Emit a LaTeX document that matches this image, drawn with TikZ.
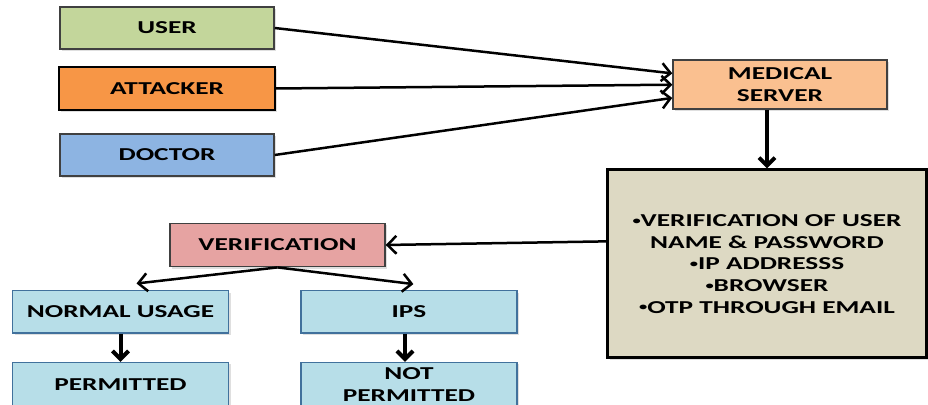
\documentclass[tikz,border=0pt]{standalone}
\usepackage{fontspec}
\setmainfont{Carlito}[FakeStretch=1.5]
\usetikzlibrary{arrows.meta,shadows}

\definecolor{usergreen}{HTML}{C3D69B}
\definecolor{attackorange}{HTML}{F79646}
\definecolor{doctorblue}{HTML}{8DB4E2}
\definecolor{serverpeach}{HTML}{FAC090}
\definecolor{checkstan}{HTML}{DDD9C3}
\definecolor{verifyrose}{HTML}{E6A3A2}
\definecolor{resultblue}{HTML}{B7DEE8}
\definecolor{resultedge}{HTML}{41719C}
\definecolor{boxedge}{HTML}{404040}

% small bullet in front of each check
\newcommand{\chk}{\raisebox{1.2pt}{\fontsize{5.5}{5.5}\selectfont•}}

\tikzset{
  box/.style={draw=boxedge, line width=0.7pt, align=center, inner sep=2pt,
    font=\fontsize{9.1}{11}\selectfont\bfseries,
    drop shadow={shadow xshift=1pt, shadow yshift=-1pt, opacity=0.25}},
  resultbox/.style={box, fill=resultblue, draw=resultedge, minimum width=108pt, minimum height=21.2pt},
  flow/.style={line width=1.25pt, -{Straight Barb[length=4.5pt,width=9pt]}},
  bigflow/.style={line width=2pt, -{Straight Barb[length=4pt,width=8pt]}},
}

\begin{document}
\begin{tikzpicture}[x=0.5pt, y=-0.5pt]
  \useasboundingbox (0,0) rectangle (928,405);

  % who asks for access
  \node[box, fill=usergreen, minimum width=107pt, minimum height=21pt] (user) at (167,28) {USER};
  \node[box, fill=attackorange, draw=black, line width=1.2pt, minimum width=108pt, minimum height=21.5pt] (attacker) at (167,88.5) {ATTACKER};
  \node[box, fill=doctorblue, minimum width=107pt, minimum height=21pt] (doctor) at (167,155) {DOCTOR};

  \node[box, fill=serverpeach, minimum width=107pt, minimum height=24.5pt] (server) at (780,84.7) {MEDICAL\\SERVER};
  \node[box, fill=checkstan, draw=black, line width=1.5pt, minimum width=159.5pt, minimum height=94pt,
        font=\fontsize{9.1}{10.85}\selectfont\bfseries] (checks) at (767,264)
        {\chk VERIFICATION OF USER\\NAME \& PASSWORD\\\chk IP ADDRESSS\\\chk BROWSER\\\chk OTP THROUGH EMAIL};

  \node[box, fill=verifyrose, minimum width=107.5pt, minimum height=21.7pt] (verify) at (277.5,245) {VERIFICATION};

  \node[resultbox] (normal) at (120.5,312) {NORMAL USAGE};
  \node[resultbox] (ips) at (409,312) {IPS};
  \node[resultbox, minimum height=22.5pt] (permit) at (120.5,385) {PERMITTED};
  \node[resultbox, minimum height=22.5pt] (notpermit) at (409,385) {NOT\\PERMITTED};

  % connectors
  \foreach \src / \ang in {user/174, attacker/180, doctor/187} {
    \draw[flow] (\src.east) -- (server.\ang);
  }
  \draw[bigflow] ([xshift=-6.5pt]server.south) -- (checks.north);
  \draw[flow] (checks.172) -- (verify.east);
  \draw[flow] (verify.south) -- ([xshift=8pt,yshift=3.3pt]normal.north);
  \draw[flow] (verify.south) -- ([xshift=2.2pt,yshift=3pt]ips.north);
  \draw[bigflow] (normal.south) -- (permit.north);
  \draw[bigflow] ([xshift=-2pt]ips.south) -- ([xshift=-2pt]notpermit.north);
\end{tikzpicture}
\end{document}
